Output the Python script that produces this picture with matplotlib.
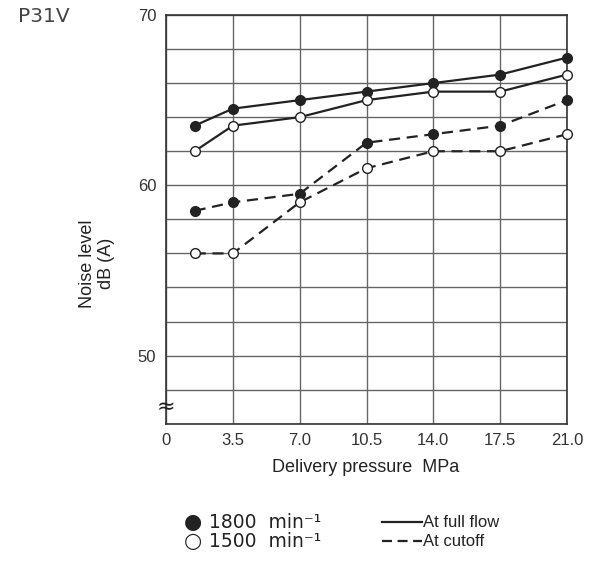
import matplotlib.pyplot as plt

# pressure (MPa) and noise level dB(A)
pressure = [1.5, 3.5, 7.0, 10.5, 14.0, 17.5, 21.0]
full_1800 = [63.5, 64.5, 65.0, 65.5, 66.0, 66.5, 67.5]
full_1500 = [62.0, 63.5, 64.0, 65.0, 65.5, 65.5, 66.5]
cut_1800 = [58.5, 59.0, 59.5, 62.5, 63.0, 63.5, 65.0]
cut_1500 = [56.0, 56.0, 59.0, 61.0, 62.0, 62.0, 63.0]

x_ticks = [0, 3.5, 7.0, 10.5, 14.0, 17.5, 21.0]
x_labels = ["0", "3.5", "7.0", "10.5", "14.0", "17.5", "21.0"]
y_ticks = [50, 60, 70]

plt.rcParams['font.family'] = ['Liberation Sans', 'DejaVu Sans']

fig = plt.figure(figsize=(5.98, 5.61), dpi=100)
ax = fig.add_axes([0.2776, 0.2447, 0.6706, 0.7286])

ax.set_xlim(0, 21)
ax.set_ylim(46, 70)
ax.set_xticks(x_ticks)
ax.set_xticklabels(x_labels)
ax.set_yticks(y_ticks)
ax.set_yticks(range(46, 71, 2), minor=True)
ax.tick_params(which='both', length=0, labelsize=12, colors='#333333', pad=7)
ax.grid(True, which='both', color='#666666', linewidth=1.0)
ax.set_axisbelow(True)
for s in ax.spines.values():
    s.set_color('#333333')
    s.set_linewidth(1.2)

dash = (0, (5, 3))
style = dict(color='#222222', lw=1.6, marker='o', ms=7, mec='#222222',
             zorder=3, clip_on=False)
ax.plot(pressure, full_1800, linestyle='-', mfc='#222222', **style)
ax.plot(pressure, full_1500, linestyle='-', mfc='white', **style)
ax.plot(pressure, cut_1800, linestyle=dash, mfc='#222222', **style)
ax.plot(pressure, cut_1500, linestyle=dash, mfc='white', **style)

# axis break mark
ax.text(0, 47.0, "≈", fontsize=16, ha='center', va='center', color='#222222',
        family='DejaVu Sans', clip_on=False, zorder=4)

fig.text(0.612, 0.166, "Delivery pressure  MPa", ha='center', va='center',
         fontsize=13, color='#222222')
fig.text(0.162, 0.53, "Noise level\ndB (A)", ha='center', va='center',
         rotation=90, fontsize=13, color='#222222', linespacing=1.15)
fig.text(0.03, 0.97, "P31V", ha='left', va='center', fontsize=14.5,
         color='#444444', family='DejaVu Sans')

# legend (drawn as figure text)
fig.text(0.322, 0.069, "●", ha='center', va='center', fontsize=15,
         color='#222222', family='DejaVu Sans')
fig.text(0.322, 0.035, "○", ha='center', va='center', fontsize=15,
         color='#222222', family='DejaVu Sans')
fig.text(0.349, 0.069, "1800  min⁻¹", ha='left', va='center', fontsize=13.5,
         color='#222222', family='DejaVu Sans')
fig.text(0.349, 0.035, "1500  min⁻¹", ha='left', va='center', fontsize=13.5,
         color='#222222', family='DejaVu Sans')

fig.add_artist(plt.Line2D([0.639, 0.705], [0.07, 0.07], color='#222222', lw=1.6))
fig.add_artist(plt.Line2D([0.639, 0.705], [0.036, 0.036], color='#222222', lw=1.6,
                          linestyle=(0, (4.5, 2.5))))
fig.text(0.707, 0.069, "At full flow", ha='left', va='center', fontsize=12, color='#222222')
fig.text(0.707, 0.035, "At cutoff", ha='left', va='center', fontsize=12, color='#222222')

fig.savefig("out.png", dpi=100)
